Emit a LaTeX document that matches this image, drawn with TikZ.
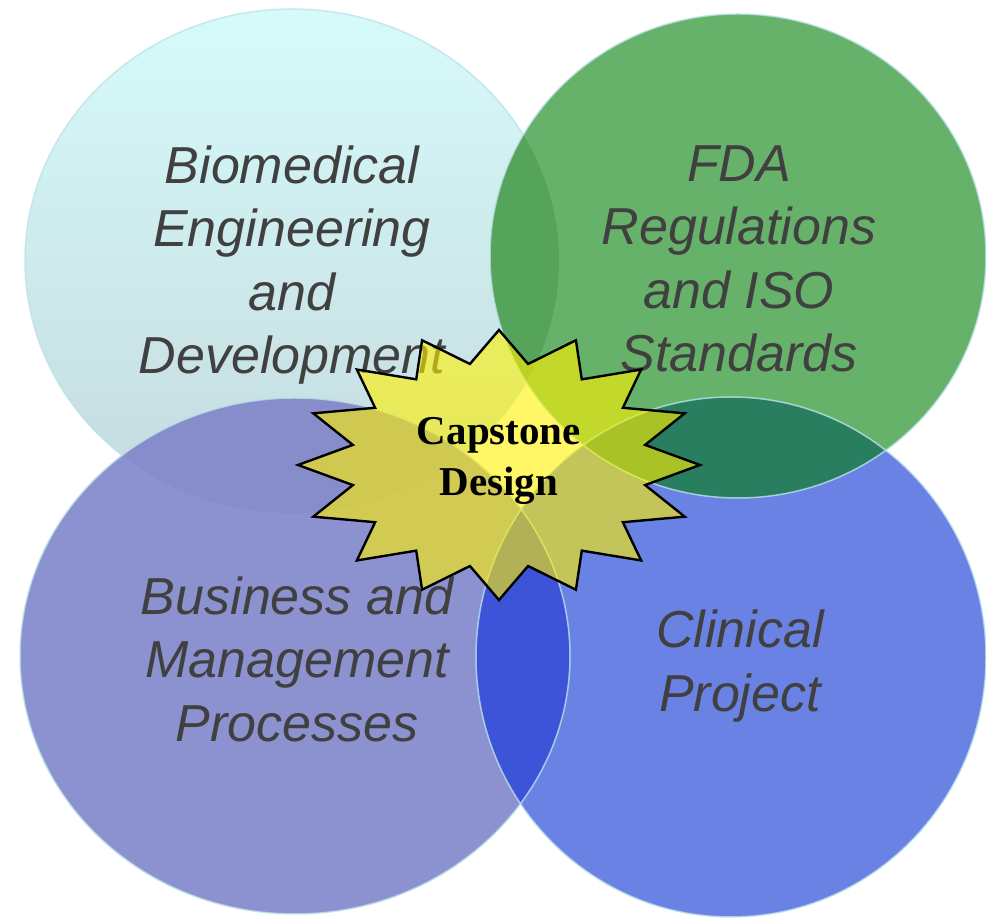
\documentclass[tikz,border=0pt]{standalone}
\usepackage{fontspec}
\setmainfont{Liberation Serif}
\newfontfamily\helv{Liberation Sans}
\usepackage{tikz}
\definecolor{bmetop}{HTML}{D6FAFA}
\definecolor{bmebot}{HTML}{C5DADE}
\definecolor{fdagreen}{HTML}{67B26A}
\definecolor{bmefda}{HTML}{56A35B}
\definecolor{buspurple}{HTML}{8C91D0}
\definecolor{bmebus}{HTML}{878CCB}
\definecolor{clinblue}{HTML}{6A82E4}
\definecolor{fdaclin}{HTML}{2A7E60}
\definecolor{busclin}{HTML}{3D53D8}
\definecolor{rim}{HTML}{BDE3EA}
\definecolor{label}{HTML}{404040}
\tikzset{area/.style={font=\helv\itshape\fontsize{52}{63.5}\selectfont, text=label, align=center}}
\tikzset{rimline/.style={draw=rim, line width=1.5pt, draw opacity=.8}}
\def\bme{(292, 658) ellipse (267 and 252)}
\def\fda{(738, 663) ellipse (248 and 242)}
\def\bus{(295, 263) ellipse (275 and 258)}
\def\clin{(731, 262) ellipse (255 and 260)}

\begin{document}
\begin{tikzpicture}[x=1pt, y=1pt]
    \useasboundingbox (0, 0) rectangle (986, 919);
    \shade[top color=bmetop, bottom color=bmebot] \bme;
    \draw[rimline] \bme;
    \fill[fdagreen] \fda;
    \begin{scope}
        \clip \bme;
        \fill[bmefda] \fda;
    \end{scope}
    \fill[buspurple] \bus;
    \begin{scope}
        \clip \bme;
        \fill[bmebus] \bus;
    \end{scope}
    \fill[clinblue] \clin;
    \begin{scope}
        \clip \fda;
        \fill[fdaclin] \clin;
    \end{scope}
    \begin{scope}
        \clip \bus;
        \fill[busclin] \clin;
    \end{scope}
    \draw[rimline] \fda;
    \draw[rimline] \bus;
    \draw[rimline] \clin;
    \node[area] (bmetext) at (292, 654) {Biomedical\\Engineering\\and\\Development};
    \node[area] (fdatext) at (739, 660) {FDA\\Regulations\\and ISO\\Standards};
    \node[area] (bustext) at (297, 260) {Business and\\Management\\Processes};
    \node[area] (clintext) at (740, 253) {Clinical\\Project};
    \draw[fill=yellow, fill opacity=.6, line width=2.4pt, line join=miter]
        plot[samples at={0,...,31}, variable=\k]
        ({499+cos(90+11.25*\k)*(201-52*mod(\k,2))}, {454+sin(90+11.25*\k)*(135-32*mod(\k,2))}) -- cycle;
    \node[font=\bfseries\fontsize{41}{51}\selectfont, align=center] (capstone) at (499, 458) {Capstone\\Design};
\end{tikzpicture}
\end{document}
